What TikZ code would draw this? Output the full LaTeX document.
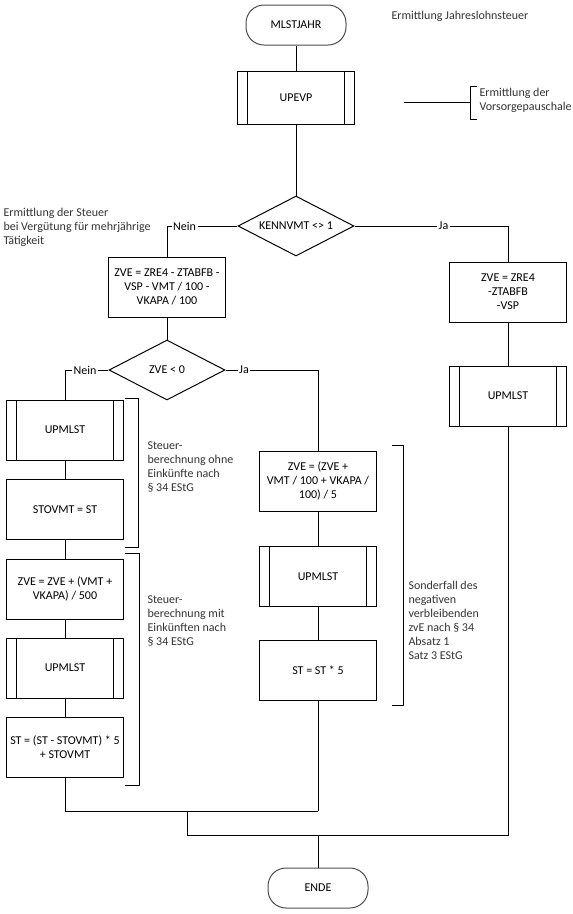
\documentclass[tikz,border=0pt]{standalone}
\usepackage{fontspec}
\setmainfont{Carlito}
\usetikzlibrary{shapes.geometric}

\begin{document}
\begin{tikzpicture}[
  x=1pt, y=-1pt,
  font=\fontsize{12}{14}\selectfont,
  line width=1pt,
  term/.style={rectangle, rounded corners=18pt, draw=black!70, minimum width=100pt, minimum height=40pt},
  proc/.style={rectangle, draw=black, minimum width=117pt, minimum height=60pt, align=center, inner sep=1pt},
  sub/.style={proc, path picture={
      \draw ([xshift=10pt]path picture bounding box.north west) -- ([xshift=10pt]path picture bounding box.south west);
      \draw ([xshift=-10pt]path picture bounding box.north east) -- ([xshift=-10pt]path picture bounding box.south east);}},
  dec/.style={diamond, draw=black, shape aspect=2, minimum width=116pt, minimum height=60pt, inner sep=0pt},
  lbl/.style={fill=white, inner sep=1.5pt},
  note/.style={anchor=west, align=left, inner sep=0pt, text=black!80},
  edge/.style={draw=black}
]
  \useasboundingbox (0,0) rectangle (573,914);

  % Start und Vorsorgepauschale
  \node[term] (start) at (296,25) {MLSTJAHR};
  \node[sub, minimum height=53pt] (upevp) at (296,97.5) {UPEVP};

  % Erste Verzweigung
  \node[dec] (kenn) at (296,226) {KENNVMT <> 1};
  \node[proc] (zveA) at (167,287) {ZVE = ZRE4 - ZTABFB -\\VSP - VMT / 100 -\\VKAPA / 100};
  \node[proc] (zveB) at (508,292) {ZVE = ZRE4\\-ZTABFB\\-VSP};
  \node[sub] (upR) at (508,396) {UPMLST};

  % Zweite Verzweigung
  \node[dec] (zvelt) at (167,370) {ZVE < 0};

  % Linker Zweig (Nein)
  \node[sub] (upL1) at (65,430) {UPMLST};
  \node[proc] (stovmt) at (65,509.5) {STOVMT = ST};
  \node[proc] (zveL) at (65,589) {ZVE = ZVE + (VMT +\\VKAPA) / 500};
  \node[sub] (upL2) at (65,668) {UPMLST};
  \node[proc] (stL) at (65,747) {ST = (ST - STOVMT) * 5\\+ STOVMT};

  % Mittlerer Zweig (Ja)
  \node[proc] (zveM) at (318,481) {ZVE = (ZVE +\\VMT / 100 + VKAPA /\\100) / 5};
  \node[sub] (upM) at (318,576.5) {UPMLST};
  \node[proc] (stM) at (318,670) {ST = ST * 5};

  % Ende
  \node[term] (ende) at (318,888) {ENDE};

  % Zusammenfuehrung
  \coordinate (j1) at (318,811);
  \coordinate (j2) at (187,811);
  \coordinate (j3) at (318,835);

  % Verbindungen
  \draw[edge] (start) -- (upevp);
  \draw[edge] (upevp) -- (kenn);
  \draw[edge] (kenn) -| node[lbl, pos=0.375] {Nein} (zveA);
  \draw[edge] (kenn) -| node[lbl, pos=0.29] {Ja} (zveB);
  \draw[edge] (zveB) -- (upR);
  \draw[edge] (zveA) -- (zvelt);
  \draw[edge] (zvelt) -| node[lbl, pos=0.27] {Nein} (upL1);
  \draw[edge] (zvelt) -| node[lbl, pos=0.1] {Ja} (zveM);
  \draw[edge] (upL1) -- (stovmt);
  \draw[edge] (stovmt) -- (zveL);
  \draw[edge] (zveL) -- (upL2);
  \draw[edge] (upL2) -- (stL);
  \draw[edge] (zveM) -- (upM);
  \draw[edge] (upM) -- (stM);
  \draw[edge] (stL) |- (j1);
  \draw[edge] (stM) -- (j1);
  \draw[edge] (j2) |- (j3);
  \draw[edge] (upR) |- (j3);
  \draw[edge] (j3) -- (ende);

  % Klammern und Kommentare
  \draw[edge] (404,102) -- (470,102);
  \draw[edge] (477,86) -| (470,119) -- (477,119);
  \draw[edge] (125,398) -| (138,547) -- (125,547);
  \draw[edge] (125,553) -| (139,785) -- (125,785);
  \draw[edge] (392,445) -| (403,705) -- (392,705);

  \node[note] (t0) at (391,16) {Ermittlung Jahreslohnsteuer};
  \node[note] (t1) at (479,100) {Ermittlung der\\Vorsorgepauschale};
  \node[note] (t2) at (3,227) {Ermittlung der Steuer\\bei Vergütung für mehrjährige\\Tätigkeit};
  \node[note] (t3) at (147,467) {Steuer-\\berechnung ohne\\Einkünfte nach\\§ 34 EStG};
  \node[note] (t4) at (147,621) {Steuer-\\berechnung mit\\Einkünften nach\\§ 34 EStG};
  \node[note] (t5) at (408,620) {Sonderfall des\\negativen\\verbleibenden\\zvE nach § 34\\Absatz 1\\Satz 3 EStG};

\end{tikzpicture}
\end{document}
